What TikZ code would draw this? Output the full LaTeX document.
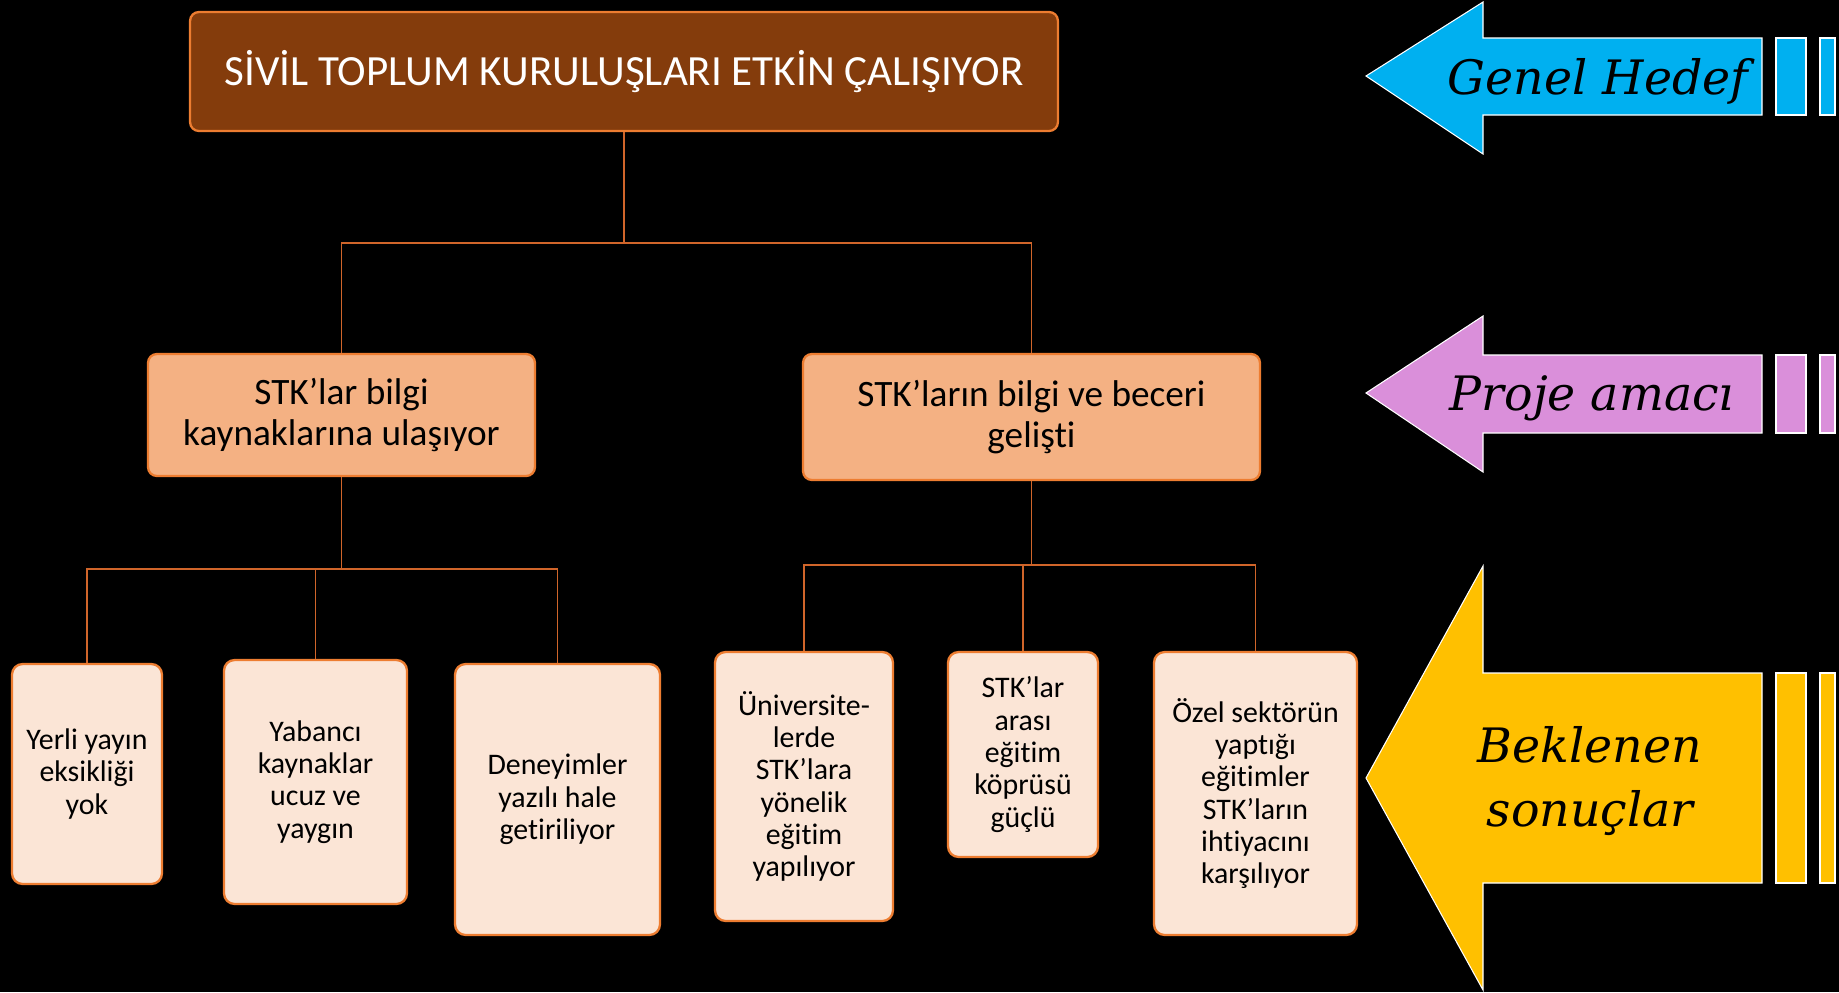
\documentclass[tikz,border=0pt]{standalone}
\usepackage{fontspec}
\setmainfont{Carlito}[Ligatures=NoCommon]
\newfontfamily\bannerfont{DejaVu Serif}
\usepackage{xcolor}
\usetikzlibrary{positioning, calc}

\definecolor{goalbrown}{HTML}{843C0C}
\definecolor{aimpeach}{HTML}{F4B183}
\definecolor{resultcream}{HTML}{FBE5D6}
\definecolor{edgeorange}{HTML}{ED7D31}
\definecolor{lineorange}{HTML}{D0652A}
\definecolor{goalblue}{HTML}{00B0F0}
\definecolor{aimorchid}{HTML}{DA8FDA}
\definecolor{resultgold}{HTML}{FFC000}

\begin{document}
\begin{tikzpicture}[x=0.02cm, y=-0.02cm,
  goalbox/.style={rectangle, draw=edgeorange, line width=1.3pt, rounded corners=5pt, fill=goalbrown, text=white, inner sep=0pt, font=\fontsize{24.5}{29}\selectfont},
  aimbox/.style={rectangle, draw=edgeorange, line width=1.3pt, rounded corners=5pt, fill=aimpeach, inner sep=0pt, align=center, font=\fontsize{21.2}{23.3}\selectfont},
  resultbox/.style={rectangle, draw=edgeorange, line width=1.3pt, rounded corners=6pt, fill=resultcream, inner sep=0pt, align=center, font=\fontsize{17}{18.4}\selectfont},
  conn/.style={draw=lineorange, line width=1.1pt},
  banner/.style={draw=white, line width=0.6pt},
  bannertext/.style={align=center, font=\bannerfont\itshape\fontsize{27}{36}\selectfont}
]
\useasboundingbox (0,0) rectangle (1839,992);
\fill[black] (0,0) rectangle (1839,992);

% boxes
\node[goalbox, minimum width=17.36cm, minimum height=2.38cm] (goal) at (624,71.5) {SİVİL TOPLUM KURULUŞLARI ETKİN ÇALIŞIYOR};

\node[aimbox, minimum width=7.74cm, minimum height=2.44cm] (aim1) at (341.5,415) {STK’lar bilgi\\kaynaklarına ulaşıyor};
\node[aimbox, minimum width=9.14cm, minimum height=2.52cm] (aim2) at (1031.5,417) {STK’ların bilgi ve beceri\\gelişti};

\node[resultbox, minimum width=3.0cm, minimum height=4.4cm] (res1) at (87,774) {Yerli yayın\\eksikliği\\yok};
\node[resultbox, minimum width=3.66cm, minimum height=4.88cm] (res2) at (315.5,782) {Yabancı\\kaynaklar\\ucuz ve\\yaygın};
\node[resultbox, minimum width=4.1cm, minimum height=5.42cm] (res3) at (557.5,799.5) {Deneyimler\\yazılı hale\\getiriliyor};
\node[resultbox, minimum width=3.56cm, minimum height=5.38cm] (res4) at (804,786.5) {Üniversite-\\lerde\\STK’lara\\yönelik\\eğitim\\yapılıyor};
\node[resultbox, minimum width=3.0cm, minimum height=4.1cm] (res5) at (1023,754.5) {STK’lar\\arası\\eğitim\\köprüsü\\güçlü};
\node[resultbox, minimum width=4.06cm, minimum height=5.66cm] (res6) at (1255.5,793.5) {Özel sektörün\\yaptığı\\eğitimler\\STK’ların\\ihtiyacını\\karşılıyor};

% connectors
\coordinate (topbus) at (goal.south |- 0,243);
\draw[conn] (goal.south) -- (topbus);
\draw[conn] (topbus) -| (aim1.north);
\draw[conn] (topbus) -| (aim2.north);

\coordinate (leftbus) at (aim1.south |- 0,569);
\draw[conn] (aim1.south) -- (leftbus);
\draw[conn] (leftbus) -| (res1.north);
\draw[conn] (leftbus) -| (res2.north);
\draw[conn] (leftbus) -| (res3.north);

\coordinate (rightbus) at (aim2.south |- 0,565);
\draw[conn] (aim2.south) -- (rightbus);
\draw[conn] (rightbus) -| (res4.north);
\draw[conn] (rightbus) -| (res5.north);
\draw[conn] (rightbus) -| (res6.north);

% level arrows
\filldraw[banner, fill=goalblue] (1366,76) -- (1483,2) -- (1483,38) -- (1762,38) -- (1762,115) -- (1483,115) -- (1483,154) -- cycle;
\filldraw[banner, fill=goalblue] (1776,38) rectangle (1806,115);
\filldraw[banner, fill=goalblue] (1820,38) rectangle (1835,115);

\filldraw[banner, fill=aimorchid] (1366,393) -- (1483,316) -- (1483,355) -- (1762,355) -- (1762,433) -- (1483,433) -- (1483,472) -- cycle;
\filldraw[banner, fill=aimorchid] (1776,355) rectangle (1806,433);
\filldraw[banner, fill=aimorchid] (1820,355) rectangle (1835,433);

\filldraw[banner, fill=resultgold] (1366,778) -- (1483,566) -- (1483,673) -- (1762,673) -- (1762,883) -- (1483,883) -- (1483,990) -- cycle;
\filldraw[banner, fill=resultgold] (1776,673) rectangle (1806,883);
\filldraw[banner, fill=resultgold] (1820,673) rectangle (1835,883);

\node[bannertext] (goallabel) at (1598,81) {Genel Hedef};
\node[bannertext] (aimlabel) at (1592,398) {Proje amacı};
\node[bannertext] (resultlabel) at (1590,781) {Beklenen\\sonuçlar};
\end{tikzpicture}
\end{document}
